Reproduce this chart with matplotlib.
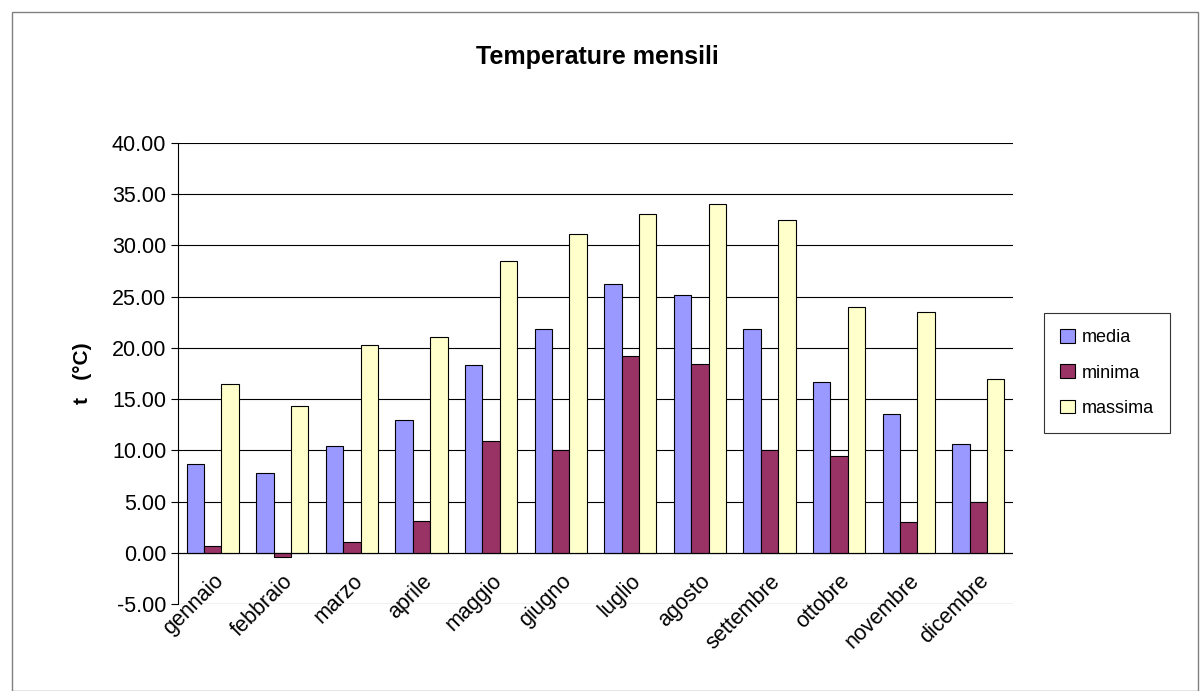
import matplotlib.pyplot as plt
import numpy as np
from matplotlib.patches import Rectangle

mesi = ['gennaio', 'febbraio', 'marzo', 'aprile', 'maggio', 'giugno',
        'luglio', 'agosto', 'settembre', 'ottobre', 'novembre', 'dicembre']
media = [8.7, 7.8, 10.4, 13.0, 18.3, 21.8, 26.2, 25.2, 21.8, 16.7, 13.5, 10.6]
minima = [0.7, -0.4, 1.1, 3.1, 10.9, 10.0, 19.2, 18.4, 10.0, 9.4, 3.0, 5.0]
massima = [16.5, 14.3, 20.3, 21.1, 28.5, 31.1, 33.1, 34.0, 32.5, 24.0, 23.5, 17.0]

W, H = 1203, 691
fig = plt.figure(figsize=(W / 100, H / 100), dpi=100)
fig.patches.append(Rectangle((12 / W, 0), (1198 - 12) / W, (H - 12) / H,
                             transform=fig.transFigure, fill=False,
                             edgecolor='#808080', lw=1))
ax = fig.add_axes([178 / W, 1 - 604 / H, (1013 - 178) / W, (604 - 143) / H])

x = np.arange(len(mesi))
bw = 0.25
kw = dict(edgecolor='black', linewidth=0.8, zorder=3)
ax.bar(x - bw, media, bw, color='#9999FF', label='media', **kw)
ax.bar(x, minima, bw, color='#993366', label='minima', **kw)
ax.bar(x + bw, massima, bw, color='#FFFFCC', label='massima', **kw)

ax.set_xlim(-0.5, len(mesi) - 0.5)
ax.set_ylim(-5, 40)
ax.set_yticks(np.arange(-5, 41, 5))
ax.set_yticklabels([f'{v:.2f}' for v in np.arange(-5, 41, 5)], fontsize=15.5,
                   family='Liberation Sans')
ax.yaxis.grid(True, color='black', lw=0.8, zorder=0)
ax.axhline(0, color='black', lw=0.8, zorder=4)
ax.set_xticks(x)
ax.set_xticklabels(mesi, rotation=45, ha='right', rotation_mode='anchor',
                   fontsize=15.5, family='Liberation Sans')
ax.tick_params(axis='x', length=0, pad=-24)
ax.tick_params(axis='y', length=5, direction='out')
for s in ['top', 'right', 'bottom']:
    ax.spines[s].set_visible(False)
ax.set_ylabel('t   (°C)', fontsize=15, fontweight='bold', family='Liberation Sans',
              labelpad=14)

fig.text(597 / W, 1 - 57 / H, 'Temperature mensili', ha='center', va='center',
         fontsize=18, fontweight='bold', family='Liberation Sans')

leg = ax.legend(loc='center left', bbox_to_anchor=(1035 / W, 1 - 373 / H),
                bbox_transform=fig.transFigure, frameon=True, fancybox=False,
                edgecolor='black', prop={'family': 'Liberation Sans', 'size': 13},
                handlelength=0.8, handleheight=0.8, labelspacing=1.0,
                borderpad=0.9, handletextpad=0.4)
leg.get_frame().set_linewidth(0.8)

fig.savefig('out.png', dpi=100)
